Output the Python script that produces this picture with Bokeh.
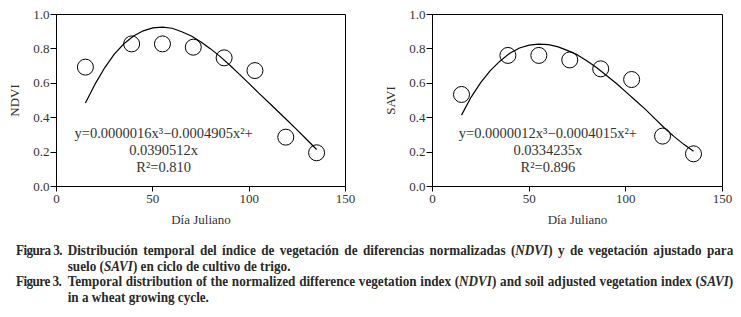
from bokeh.plotting import figure
from bokeh.layouts import column, row
from bokeh.models import Div, FixedTicker, ColumnDataSource, NumeralTickFormatter
from bokeh.core.properties import value
from bokeh.embed import file_html
from bokeh.resources import INLINE

# ---- data ----
days = [15, 39, 55, 71, 87, 103, 119, 135]
ndvi = [0.694, 0.829, 0.829, 0.810, 0.748, 0.674, 0.287, 0.196]
savi = [0.535, 0.762, 0.762, 0.736, 0.684, 0.622, 0.293, 0.190]

fit_days = [15, 20, 25, 30, 35, 40, 45, 50, 55, 60, 65, 70, 75,
            80, 85, 90, 95, 100, 105, 110, 115, 120, 125, 130, 135]
ndvi_fit = [0.485, 0.595, 0.690, 0.770, 0.830, 0.875, 0.905, 0.922, 0.927,
            0.920, 0.900, 0.875, 0.840, 0.800, 0.755, 0.705, 0.652, 0.598,
            0.543, 0.490, 0.436, 0.382, 0.328, 0.272, 0.215]
savi_fit = [0.415, 0.520, 0.605, 0.675, 0.730, 0.775, 0.805, 0.822, 0.828,
            0.825, 0.812, 0.790, 0.765, 0.730, 0.690, 0.645, 0.600, 0.550,
            0.500, 0.450, 0.395, 0.340, 0.290, 0.245, 0.205]

ndvi_eq = ["y=0.0000016x³−0.0004905x²+", "0.0390512x", "R²=0.810"]
savi_eq = ["y=0.0000012x³−0.0004015x²+", "0.0334235x", "R²=0.896"]
eq_y = [0.31, 0.213, 0.116]

x_ticks = [0, 50, 100, 150]
y_ticks = [0.0, 0.2, 0.4, 0.6, 0.8, 1.0]

FONT = "Liberation Serif"
TXT = "#333333"


def panel(yvals, fitvals, eq, eq_x, ylabel, width, bl, br):
    p = figure(width=width, height=232, x_range=(0, 150), y_range=(0, 1),
               output_backend="svg", toolbar_location=None,
               min_border_left=bl, min_border_right=br,
               min_border_top=14, min_border_bottom=46)
    p.outline_line_color = "black"
    p.outline_line_width = 1
    p.outline_line_alpha = 1
    p.xgrid.visible = False
    p.ygrid.visible = False
    p.background_fill_color = "white"
    p.border_fill_color = "white"

    p.line(fit_days, fitvals, line_color="black", line_width=1.2)
    p.scatter(days, yvals, size=16, marker="circle", line_color="black",
              fill_color="white", fill_alpha=0, line_width=1)

    src = ColumnDataSource(dict(x=[eq_x] * 3, y=eq_y, t=eq))
    p.text(x="x", y="y", text="t", source=src, text_align="center",
           text_baseline="middle", text_font=value(FONT),
           text_font_size="14.5px", text_color=TXT)

    for ax in (p.xaxis[0], p.yaxis[0]):
        ax.axis_line_color = "black"
        ax.major_tick_line_color = "black"
        ax.minor_tick_line_color = None
        ax.major_tick_in = 0
        ax.major_tick_out = 6
        ax.major_label_text_font = FONT
        ax.major_label_text_font_size = "13px"
        ax.major_label_text_color = TXT
        ax.axis_label_text_font = FONT
        ax.axis_label_text_font_size = "13px"
        ax.axis_label_text_font_style = "normal"
        ax.axis_label_text_color = TXT
    p.xaxis.ticker = FixedTicker(ticks=x_ticks)
    p.yaxis.ticker = FixedTicker(ticks=y_ticks)
    p.xaxis.major_tick_out = 5
    p.xaxis.major_label_standoff = 3
    p.yaxis.major_label_standoff = 1
    p.yaxis.formatter = NumeralTickFormatter(format="0.0")
    p.xaxis.axis_label = "Día Juliano"
    p.yaxis.axis_label = ylabel
    p.xaxis.axis_label_standoff = 6
    p.yaxis.axis_label_standoff = 8
    return p


p1 = panel(ndvi, ndvi_fit, ndvi_eq, 55.6, "NDVI", 375, 56, 30)
p2 = panel(savi, savi_fit, savi_eq, 59.7, "SAVI", 358, 57, 11)

line_st = "position:relative;padding-left:55px;white-space:nowrap;"
lab_st = "position:absolute;left:0;top:0;letter-spacing:-0.6px;"
just_st = "display:block;width:708px;text-align:justify;text-align-last:justify;"
left_st = "display:block;width:708px;"

cap_html = (
    "<div style=\"font-family:'Liberation Serif';font-weight:bold;font-size:14px;"
    "line-height:15.5px;color:#2a2a2a;transform:scaleX(0.94);transform-origin:0 0;"
    "width:764px;padding-top:6px;margin-left:11px;\">"
    f"<div style='{line_st}'><span style='{lab_st}'>Figura 3.</span>"
    f"<span style='{just_st}'>Distribución temporal del índice de vegetación de diferencias "
    "normalizadas (<i>NDVI</i>) y de vegetación ajustado para</span></div>"
    f"<div style='{line_st}'>"
    f"<span style='{left_st}'>suelo (<i>SAVI</i>) en ciclo de cultivo de trigo.</span></div>"
    f"<div style='{line_st}'><span style='{lab_st}'>Figure 3.</span>"
    f"<span style='{just_st}'>Temporal distribution of the normalized difference vegetation "
    "index (<i>NDVI</i>) and soil adjusted vegetation index (<i>SAVI</i>)</span></div>"
    f"<div style='{line_st}'>"
    f"<span style='{left_st}'>in a wheat growing cycle.</span></div>"
    "</div>"
)
cap = Div(text=cap_html, width=733, height=80)

layout = column(row(p1, p2, spacing=0), cap, spacing=0)

open("out.html", "w").write(file_html(layout, INLINE))
